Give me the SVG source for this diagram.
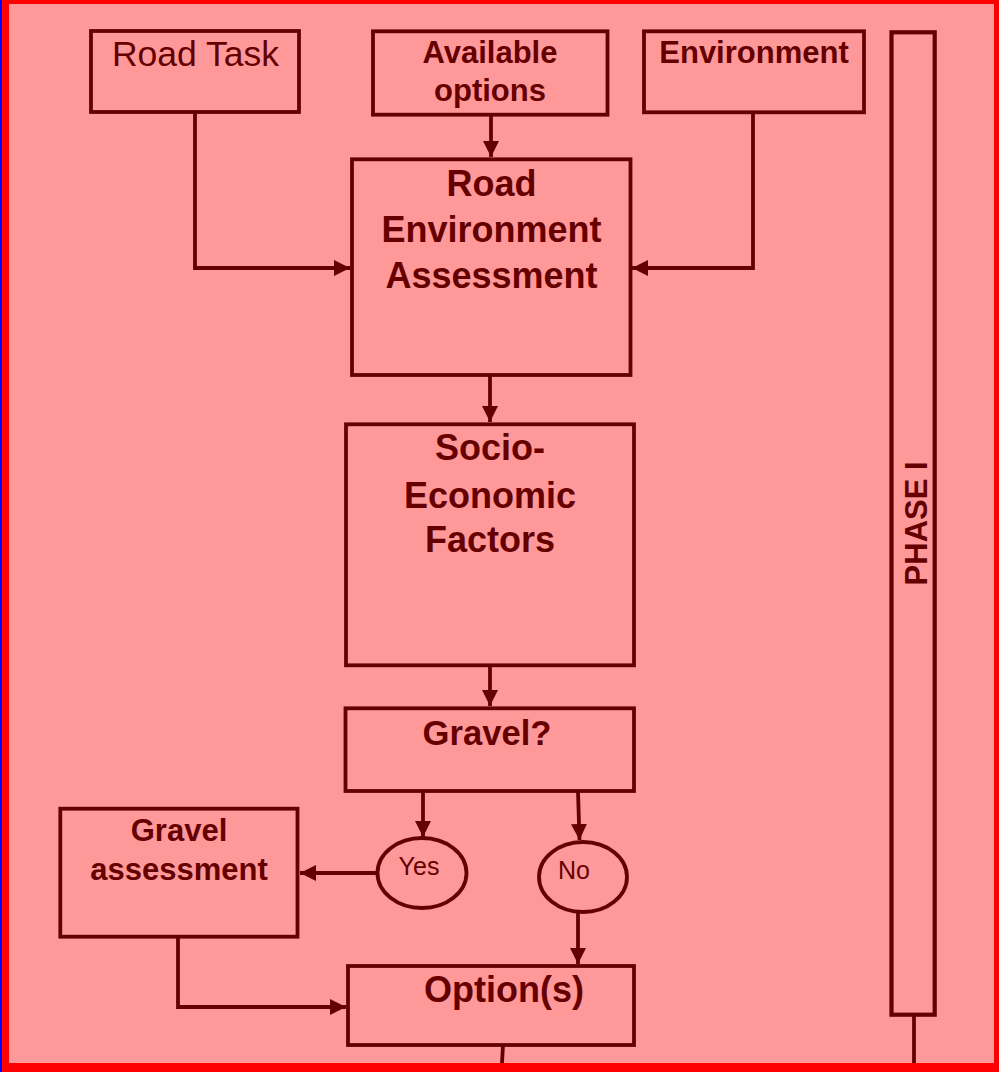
<svg xmlns="http://www.w3.org/2000/svg" width="999" height="1072" viewBox="0 0 999 1072">
<style>
.box{fill:none;stroke:#660000;stroke-width:3.8}
.ln{fill:none;stroke:#660000;stroke-width:3.8}
.t{font-family:"Liberation Sans",Arial,sans-serif;fill:#660000;text-anchor:middle}
.b{font-weight:bold}
</style>
<defs>
<marker id="ah" markerUnits="userSpaceOnUse" markerWidth="16" markerHeight="16" refX="16" refY="8" orient="auto">
<path d="M0,0 L16,8 L0,16 z" fill="#660000"/>
</marker>
</defs>
<rect x="0" y="0" width="999" height="1072" fill="#FF0000"/>
<rect x="0" y="0" width="2" height="1072" fill="#0000FF"/>
<rect x="9" y="4" width="985" height="1059" fill="#FF9999"/>
<g id="connectors">
<path class="ln" d="M195,112 V268 H350" marker-end="url(#ah)"/>
<path class="ln" d="M491,115 V157" marker-end="url(#ah)"/>
<path class="ln" d="M753,112 V268 H632" marker-end="url(#ah)"/>
<path class="ln" d="M490,375 V422" marker-end="url(#ah)"/>
<path class="ln" d="M490,665 V706" marker-end="url(#ah)"/>
<path class="ln" d="M423,791 V837" marker-end="url(#ah)"/>
<path class="ln" d="M578,791 L579.5,840" marker-end="url(#ah)"/>
<path class="ln" d="M378,873 H300" marker-end="url(#ah)"/>
<path class="ln" d="M578,912 V964" marker-end="url(#ah)"/>
<path class="ln" d="M178,936 V1007 H346" marker-end="url(#ah)"/>
<path class="ln" d="M503,1045 L502,1063"/>
<path class="ln" d="M914,1015 V1063"/>
</g>
<g id="road-task">
<rect class="box" x="91" y="31" width="208" height="81"/>
<text class="t" x="195.5" y="66" font-size="35.5">Road Task</text>
</g>
<g id="available-options">
<rect class="box" x="373" y="31.3" width="234.5" height="83.4"/>
<text class="t b" x="490" y="63.3" font-size="31">Available</text>
<text class="t b" x="490" y="101" font-size="31">options</text>
</g>
<g id="environment">
<rect class="box" x="644" y="31.3" width="220" height="81"/>
<text class="t b" x="754" y="63.3" font-size="31">Environment</text>
</g>
<g id="phase-i">
<rect x="891.5" y="32.3" width="43.2" height="982.4" fill="none" stroke="#660000" stroke-width="4.2"/>
<text class="t b" transform="translate(926.5,523.4) rotate(-90)" font-size="31">PHASE I</text>
</g>
<g id="road-environment-assessment">
<rect class="box" x="352" y="159.3" width="278.5" height="215.7"/>
<text class="t b" x="491.5" y="196" font-size="36">Road</text>
<text class="t b" x="491.5" y="241.7" font-size="36">Environment</text>
<text class="t b" x="491.5" y="288.3" font-size="36">Assessment</text>
</g>
<g id="socio-economic-factors">
<rect class="box" x="346" y="424.3" width="288" height="241"/>
<text class="t b" x="490" y="460" font-size="36">Socio-</text>
<text class="t b" x="490" y="507.7" font-size="36">Economic</text>
<text class="t b" x="490" y="552.3" font-size="36">Factors</text>
</g>
<g id="gravel-q">
<rect class="box" x="345.5" y="708.3" width="288.5" height="82.7"/>
<text class="t b" x="487" y="745" font-size="34.6">Gravel?</text>
</g>
<g id="yes">
<ellipse cx="422" cy="873" rx="44.5" ry="35" fill="none" stroke="#660000" stroke-width="3.8"/>
<text class="t" x="419" y="875" font-size="25">Yes</text>
</g>
<g id="no">
<ellipse cx="583" cy="877" rx="44" ry="35" fill="none" stroke="#660000" stroke-width="3.8"/>
<text class="t" x="574" y="879" font-size="25">No</text>
</g>
<g id="gravel-assessment">
<rect class="box" x="60.3" y="808.7" width="237.2" height="128"/>
<text class="t b" x="179" y="840.7" font-size="31">Gravel</text>
<text class="t b" x="179" y="880" font-size="31">assessment</text>
</g>
<g id="options">
<rect class="box" x="348" y="966" width="286" height="79"/>
<text class="t b" x="504" y="1001.7" font-size="36">Option(s)</text>
</g>
</svg>
